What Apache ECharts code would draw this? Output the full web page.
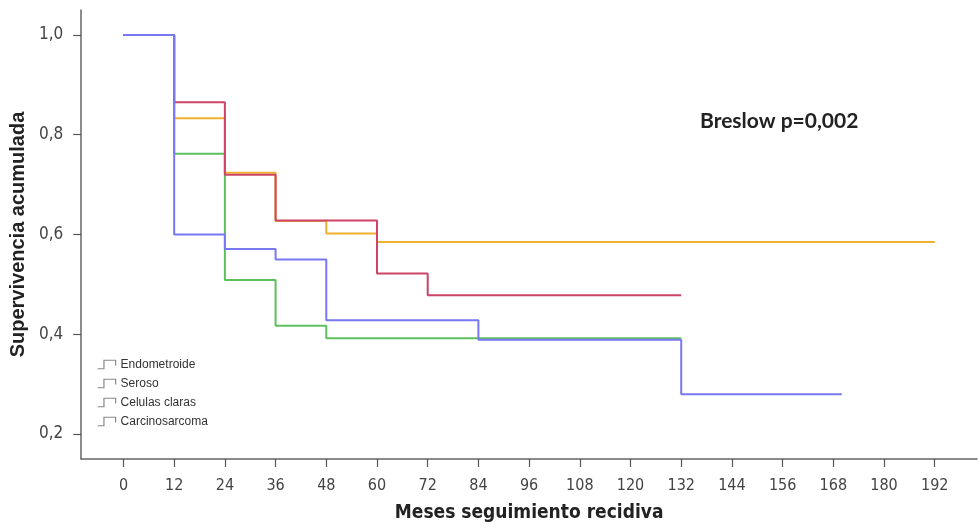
<!DOCTYPE html>
<html>
<head>
<meta charset="utf-8">
<script src="https://cdn.jsdelivr.net/npm/echarts@6/dist/echarts.min.js"></script>
<style>html,body{margin:0;padding:0;background:#fff}#c{width:979px;height:528px}</style>
</head>
<body>
<div id="c"></div>
<script>
const groups = ["Endometroide", "Seroso", "Celulas claras", "Carcinosarcoma"];
const xTicks = [0,12,24,36,48,60,72,84,96,108,120,132,144,156,168,180,192];
const yTicks = [0.2,0.4,0.6,0.8,1.0];

// Kaplan-Meier step points: [month, survival]
const endometroideT = [0,12,24,36,48,60,192];
const endometroideS = [1.0,0.833,0.724,0.627,0.602,0.585,0.585];
const serosoT = [0,12,24,36,48,132];
const serosoS = [1.0,0.762,0.509,0.417,0.392,0.392];
const celulasT = [0,12,24,36,60,72,132];
const celulasS = [1.0,0.865,0.72,0.628,0.522,0.478,0.478];
const carcinoT = [0,12,24,36,48,84,132,170];
const carcinoS = [1.0,0.6,0.571,0.55,0.428,0.389,0.28,0.28];

const colors = ["#f0b030", "#5cc05c", "#cc4466", "#7878f2"];
const zip = (t, s) => t.map((v, i) => [v, s[i]]);
const seriesData = [zip(endometroideT, endometroideS), zip(serosoT, serosoS), zip(celulasT, celulasS), zip(carcinoT, carcinoS)];

const narrow = "'Liberation Sans Narrow', 'DejaVu Sans Condensed', sans-serif";
const chart = echarts.init(document.getElementById('c'), null, {renderer: 'canvas'});
const iconPath = 'path://M0,9L6,9L6,1L17,1L17,6';
chart.setOption({
  animation: false,
  backgroundColor: '#fff',
  title: {
    text: 'Breslow p=0,002', left: 695, top: 106,
    textStyle: {fontFamily: 'Lato', fontWeight: 'bold', fontSize: 21, color: '#222'}
  },
  legend: {
    data: groups, orient: 'vertical', left: 92, top: 353, itemWidth: 18, itemHeight: 10, itemGap: 6,
    icon: iconPath,
    itemStyle: {color: 'transparent', borderColor: '#888', borderWidth: 1.2},
    textStyle: {fontFamily: 'Liberation Sans', fontSize: 12, color: '#333', lineHeight: 13}
  },
  grid: {left: 81, top: 10, width: 896, height: 450, containLabel: false},
  xAxis: {
    type: 'value', min: -10, max: 202,
    name: 'Meses seguimiento recidiva', nameLocation: 'middle', nameGap: 45,
    nameTextStyle: {fontFamily: narrow, fontWeight: 'bold', fontSize: 19, color: '#222'},
    axisLine: {show: true, onZero: false, lineStyle: {color: '#666', width: 1.5}},
    axisTick: {show: true, inside: false, length: 8, customValues: xTicks, lineStyle: {color: '#555', width: 1.2}},
    axisLabel: {customValues: xTicks, margin: 19, fontFamily: narrow, fontSize: 16, color: '#444'},
    splitLine: {show: false}
  },
  yAxis: {
    type: 'value', min: 0.15, max: 1.05,
    name: 'Supervivencia acumulada', nameLocation: 'middle', nameGap: 50, nameRotate: 90,
    nameTextStyle: {fontFamily: 'Liberation Sans', fontWeight: 'bold', fontSize: 20, color: '#222'},
    axisLine: {show: true, onZero: false, lineStyle: {color: '#666', width: 1.5}},
    axisTick: {show: true, inside: false, length: 8, customValues: yTicks, lineStyle: {color: '#555', width: 1.2}},
    axisLabel: {customValues: yTicks, margin: 18, fontFamily: narrow, fontSize: 17, color: '#444',
      formatter: v => v.toFixed(1).replace('.', ',')},
    splitLine: {show: false}
  },
  series: groups.map((g, i) => ({
    name: g, type: 'line', step: 'end', data: seriesData[i], showSymbol: false, symbol: 'none',
    lineStyle: {color: colors[i], width: 2}, itemStyle: {color: colors[i]}, z: 2 + i
  }))
});
</script>
</body>
</html>
